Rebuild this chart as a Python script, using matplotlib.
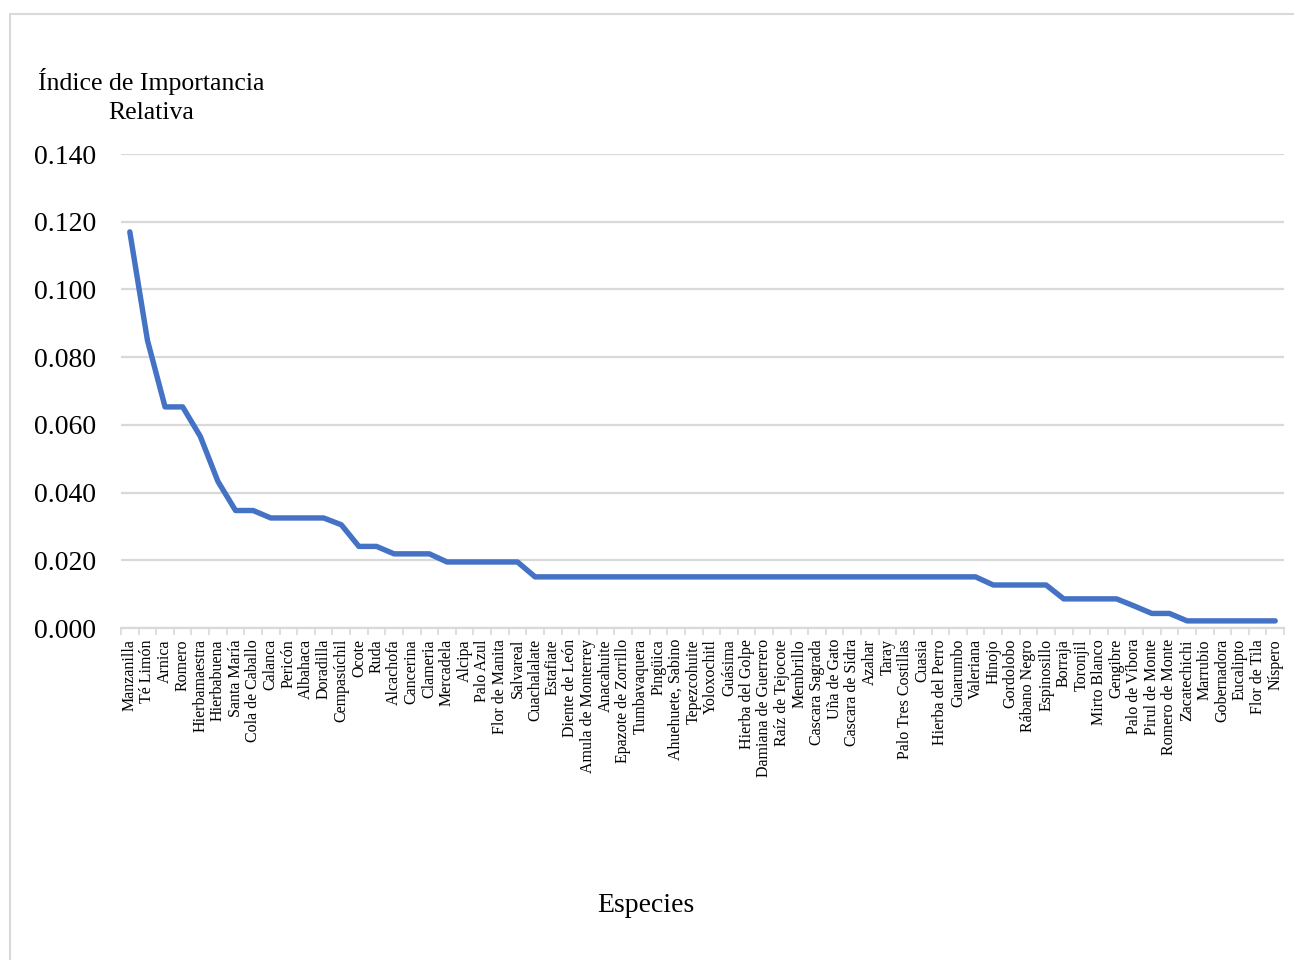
import matplotlib
matplotlib.use("Agg")
import matplotlib.pyplot as plt
from matplotlib.patches import Rectangle
import numpy as np

species = [
    "Manzanilla", "Té Limón", "Arnica", "Romero", "Hierbamaestra", "Hierbabuena",
    "Santa María", "Cola de Caballo", "Calanca", "Pericón", "Albahaca", "Doradilla",
    "Cempasúchil", "Ocote", "Ruda", "Alcachofa", "Cancerina", "Clameria", "Mercadela",
    "Alcipa", "Palo Azul", "Flor de Manita", "Salvareal", "Cuachalalate", "Estafiate",
    "Diente de León", "Amula de Monterrey", "Anacahuite", "Epazote de Zorrillo",
    "Tumbavaquera", "Pingüica", "Ahuehuete, Sabino", "Tepezcohuite", "Yoloxochitl",
    "Guásima", "Hierba del Golpe", "Damiana de Guerrero", "Raíz de Tejocote",
    "Membrillo", "Cascara Sagrada", "Uña de Gato", "Cascara de Sidra", "Azahar",
    "Taray", "Palo Tres Costillas", "Cuasia", "Hierba del Perro", "Guarumbo",
    "Valeriana", "Hinojo", "Gordolobo", "Rábano Negro", "Espinosillo", "Borraja",
    "Toronjil", "Mirto Blanco", "Gengibre", "Palo de Víbora", "Pirul de Monte",
    "Romero de Monte", "Zacatechichi", "Marrubio", "Gobernadora", "Eucalipto",
    "Flor de Tila", "Níspero",
]

iir = [
    0.117, 0.085, 0.0653, 0.0653, 0.0566, 0.0433,
    0.0347, 0.0347, 0.0325, 0.0325, 0.0325, 0.0325,
    0.0305, 0.0241, 0.0241, 0.0219, 0.0219, 0.0219, 0.0195,
    0.0195, 0.0195, 0.0195, 0.0195, 0.0151, 0.0151,
    0.0151, 0.0151, 0.0151, 0.0151,
    0.0151, 0.0151, 0.0151, 0.0151, 0.0151,
    0.0151, 0.0151, 0.0151, 0.0151,
    0.0151, 0.0151, 0.0151, 0.0151, 0.0151,
    0.0151, 0.0151, 0.0151, 0.0151, 0.0151,
    0.0151, 0.0127, 0.0127, 0.0127, 0.0127, 0.0086,
    0.0086, 0.0086, 0.0086, 0.0065, 0.0043,
    0.0043, 0.0021, 0.0021, 0.0021, 0.0021,
    0.0021, 0.0021,
]

yticks = [0.0, 0.02, 0.04, 0.06, 0.08, 0.10, 0.12, 0.14]

plt.rcParams['font.family'] = ['Liberation Serif', 'DejaVu Serif']

W, H = 1294, 960
fig = plt.figure(figsize=(W / 100, H / 100), dpi=100)
ax = fig.add_axes([121 / W, 1 - 628 / H, (1284 - 121) / W, (628 - 154) / H])

x = np.arange(len(species))
ax.plot(x, iir, color="#4472C4", linewidth=3.9, solid_joinstyle="round",
        solid_capstyle="round", zorder=3)

ax.set_xlim(-0.5, len(species) - 0.5)
ax.set_ylim(0, 0.14)
ax.set_yticks(yticks)
ax.set_yticklabels([f"{v:.3f}" for v in yticks], fontsize=20)
ax.yaxis.grid(True, color="#D9D9D9", linewidth=1.6)
ax.set_axisbelow(True)
ax.tick_params(axis="y", length=0, pad=18, colors="black")

ax.set_xticks(x)
ax.set_xticklabels(species, rotation=90, fontsize=11.5)
ax.set_xticks(np.arange(len(species) + 1) - 0.5, minor=True)
ax.tick_params(axis="x", which="major", length=0, pad=8)
ax.tick_params(axis="x", which="minor", length=5, width=1.2, color="#D9D9D9")

for s in ["top", "right", "left"]:
    ax.spines[s].set_visible(False)
ax.spines["bottom"].set_color("#D9D9D9")
ax.spines["bottom"].set_linewidth(1.6)

fig.text(151 / W, 1 - 68 / H, "Índice de Importancia\nRelativa", ha="center",
         va="top", fontsize=18.5, linespacing=1.4)
fig.text(646 / W, 1 - 906 / H, "Especies", ha="center", va="center", fontsize=20)

fig.patches.append(Rectangle((10 / W, -0.05), 1.2, (1 - 14 / H) + 0.05,
                             transform=fig.transFigure, fill=False,
                             edgecolor="#D9D9D9", linewidth=1.5))

fig.savefig("out.png", dpi=100, facecolor="white")
